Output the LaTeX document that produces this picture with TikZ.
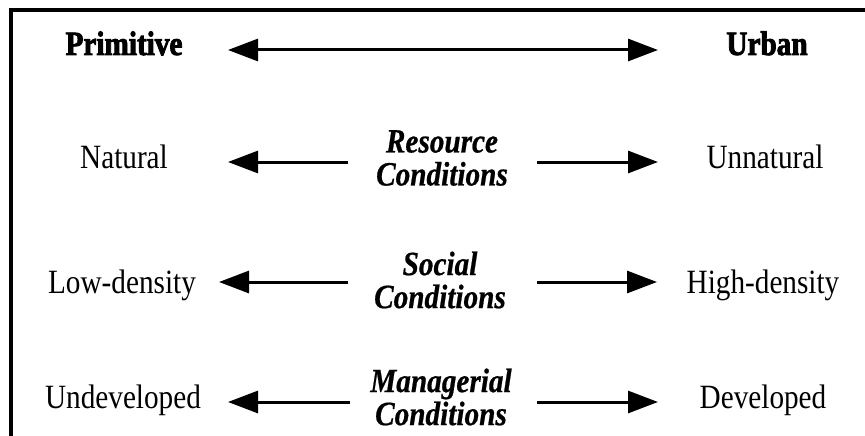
\documentclass[tikz,border=0pt]{standalone}
\usepackage{fontspec}
\setmainfont{Liberation Serif}
\newfontfamily\diagfont[FakeStretch=0.86,BoldFeatures={FakeBold=2.5},BoldItalicFeatures={FakeBold=0.6}]{Liberation Serif}
\usetikzlibrary{arrows.meta}
\begin{document}
\begin{tikzpicture}[x=1pt,y=-1pt,
  sidetext/.style={font=\diagfont\fontsize{34}{33}\selectfont, anchor=base, inner sep=0pt},
  headtext/.style={font=\diagfont\bfseries\fontsize{34}{33}\selectfont, anchor=base, inner sep=0pt},
  condlabel/.style={font=\diagfont\bfseries\itshape\fontsize{34}{33}\selectfont, align=center, anchor=center, inner sep=0pt},
  rowarrow/.style={line width=3pt, -{Triangle[length=30pt,width=22pt]}},
  toparrow/.style={line width=3pt, {Triangle[length=30pt,width=22pt]}-{Triangle[length=30pt,width=22pt]}},
  frameline/.style={line width=4pt}]
\useasboundingbox (0,0) rectangle (865,436);
% frame
\coordinate (fbl) at (11,436);
\coordinate (ftl) at (11,10);
\coordinate (ftr) at (866,10);
\draw[frameline] (fbl) -- (ftl) -- (ftr);
% top row
\node[headtext] (prim) at (124,55) {Primitive};
\node[headtext] (urban) at (767,55) {Urban};
\coordinate (tl) at (228,50);
\coordinate (tr) at (658,50);
\draw[toparrow] (tl) -- (tr);
% resource row
\node[sidetext] (nat) at (124,168) {Natural};
\node[sidetext] (unnat) at (765,168) {Unnatural};
\node[condlabel] (res) at (442,158) {Resource\\Conditions};
\coordinate (r1a) at (348,162); \coordinate (r1b) at (228,162);
\coordinate (r1c) at (537,162); \coordinate (r1d) at (658,162);
\draw[rowarrow] (r1a) -- (r1b);
\draw[rowarrow] (r1c) -- (r1d);
% social row
\node[sidetext] (low) at (122,293) {Low-density};
\node[sidetext] (high) at (763,293) {High-density};
\node[condlabel] (soc) at (440,280) {Social\\Conditions};
\coordinate (r2a) at (348,282); \coordinate (r2b) at (219,282);
\coordinate (r2c) at (537,282); \coordinate (r2d) at (657,282);
\draw[rowarrow] (r2a) -- (r2b);
\draw[rowarrow] (r2c) -- (r2d);
% managerial row
\node[sidetext] (undev) at (123,408) {Undeveloped};
\node[sidetext] (dev) at (763,408) {Developed};
\node[condlabel] (man) at (441,397) {Managerial\\Conditions};
\coordinate (r3a) at (350,402); \coordinate (r3b) at (228,402);
\coordinate (r3c) at (537,402); \coordinate (r3d) at (658,402);
\draw[rowarrow] (r3a) -- (r3b);
\draw[rowarrow] (r3c) -- (r3d);
\end{tikzpicture}
\end{document}
